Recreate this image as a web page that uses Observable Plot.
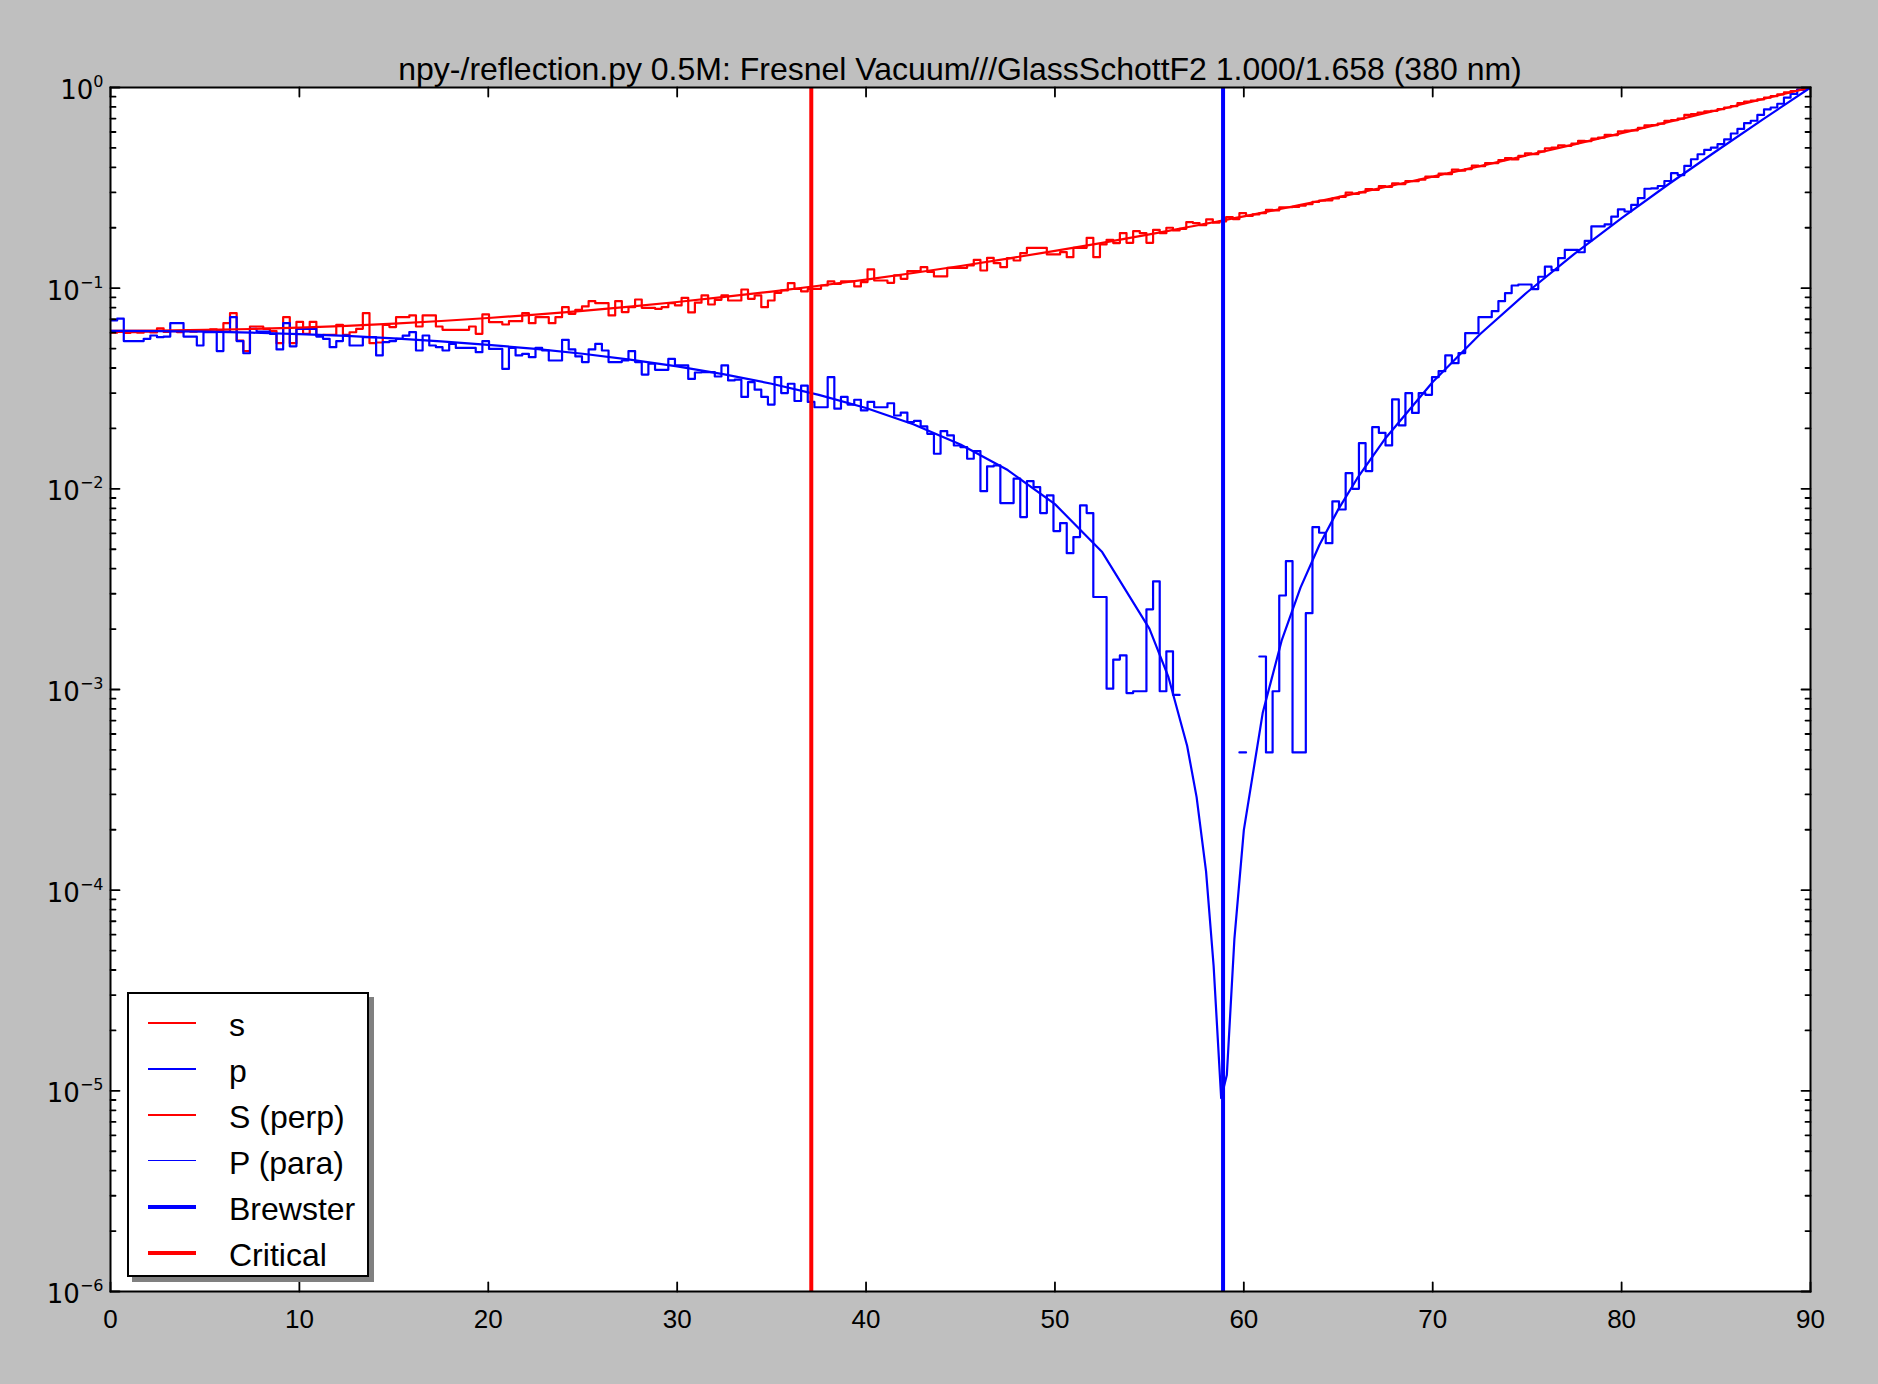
<!DOCTYPE html>
<html>
<head>
<meta charset="utf-8">
<script src="https://cdn.jsdelivr.net/npm/d3@7"></script>
<script src="https://cdn.jsdelivr.net/npm/@observablehq/plot@0.6"></script>
<style>
html, body { margin: 0; padding: 0; background: #bfbfbf; }
#wrap { position: relative; width: 1878px; height: 1384px; overflow: hidden; }
#title { position: absolute; left: 110px; width: 1700px; top: 53px; text-align: center;
  font-family: "Liberation Sans", Arial, sans-serif; font-size: 32px; line-height: 32px; color: #000; white-space: nowrap; }
#legend { position: absolute; left: 127px; top: 992px; width: 242px; height: 285px; box-sizing: border-box;
  background: #fff; border: 2px solid #000; box-shadow: 5px 5px 0 #808080; }
.sw { position: absolute; left: 19px; width: 48px; }
.lt { position: absolute; left: 100px; font-family: "Liberation Sans", Arial, sans-serif; font-size: 32px; line-height: 32px; color: #000; white-space: nowrap; }
</style>
</head>
<body>
<div id="wrap">
  <div id="chart"></div>
  <div id="title"></div>
  <div id="legend"></div>
</div>
<script>
// ---------------- data ----------------
const titleText = "npy-/reflection.py 0.5M: Fresnel Vacuum///GlassSchottF2 1.000/1.658 (380 nm)";

// histogram range (256 equal bins)
const histRange = [0, 90];
// s (perpendicular) histogram, 256 bins over 0..90 deg
const sHist = [
0.0600,0.0605,0.0598,0.0603,0.0600,0.0607,0.0602,0.0630,0.0605,0.0610,0.0604,0.0612,0.0607,0.0615,0.0612,
0.0623,0.0618,0.0669,0.0751,0.0548,0.0486,0.0644,0.0644,0.0627,0.0611,0.0532,0.0717,0.0532,0.0680,0.0592,
0.0680,0.0581,0.0585,0.0585,0.0657,0.0585,0.0603,0.0627,0.0751,0.0532,0.0536,0.0657,0.0640,0.0717,0.0717,0.0731,
0.0644,0.0731,0.0731,0.0644,0.0620,0.0620,0.0620,0.0620,0.0644,0.0592,0.0740,0.0677,0.0677,0.0659,0.0685,
0.0685,0.0751,0.0669,0.0717,0.0717,0.0669,0.0717,0.0804,0.0745,0.0780,0.0811,0.0862,0.0842,0.0842,0.0731,
0.0862,0.0760,0.0804,0.0878,0.0798,0.0798,0.0789,0.0804,0.0842,0.0820,0.0895,0.0757,0.0847,
0.0920,0.0829,0.0875,0.0920,0.0868,0.0868,0.0985,0.0885,0.0920,0.0804,0.0868,0.0948,0.0974,0.1059,0.0993,
0.0963,0.0993,0.0993,0.1031,0.1080,0.1051,0.1080,0.1080,0.1020,0.1072,0.1240,0.1092,0.1092,0.1063,0.1157,
0.1113,0.1216,0.1216,0.1273,0.1205,0.1144,
0.1144,0.1263,0.1263,0.1263,0.1297,0.1384,0.1225,0.1416,0.1332,0.1273,0.1411,0.1374,0.1495,0.1589,0.1589,
0.1589,0.1472,0.1472,0.1512,0.1427,0.1589,0.1589,0.1782,0.1427,0.1651,0.1742,0.1677,0.1880,0.1683,0.1924,
0.1880,0.1683,0.1954,0.1880,0.2000,0.1939,0.1976,0.2133,
0.2110,0.2060,0.2200,0.2120,0.2150,0.2260,0.2210,0.2365,0.2290,0.2330,0.2365,0.2457,0.2440,0.2531,0.2531,
0.2540,0.2580,0.2620,0.2690,0.2733,0.2740,0.2800,0.2850,0.2990,0.2950,0.3000,0.3120,0.3090,0.3230,0.3200,
0.3330,0.3300,0.3420,0.3410,0.3470,0.3600,0.3590,0.3720,0.3700,0.3900,0.3850,0.3920,0.4080,0.4050,0.4200,
0.4200,0.4350,0.4450,0.4380,0.4560,0.4700,0.4650,0.4800,0.4980,0.5020,0.5150,0.5120,0.5260,0.5420,0.5400,
0.5560,0.5620,0.5800,0.5790,0.6050,0.6100,0.6120,0.6290,0.6480,0.6500,0.6600,0.6820,0.6870,0.7000,0.7300,
0.7380,0.7500,0.7600,0.7650,0.7800,0.7950,0.8080,0.8350,0.8500,0.8600,0.8720,0.8900,0.9050,0.9250,0.9450,
0.9600,0.9750,0.9900
];
// p (parallel) histogram, 256 bins over 0..90 deg (0 = empty bin)
const pHist = [
0.0690,0.0705,0.0545,0.0545,0.0545,0.0559,0.0581,0.0570,0.0574,0.0669,0.0669,0.0574,0.0574,0.0518,0.0603,
0.0603,0.0486,0.0607,0.0717,0.0545,0.0474,0.0627,0.0607,0.0607,0.0592,0.0495,0.0669,0.0513,0.0627,0.0627,
0.0627,0.0574,0.0559,0.0508,0.0545,0.0581,0.0518,0.0518,0.0570,0.0570,0.0462,0.0539,0.0545,0.0559,0.0580,0.0604,
0.0489,0.0581,0.0518,0.0508,0.0489,0.0528,0.0504,0.0504,0.0504,0.0480,0.0545,0.0498,0.0498,0.0396,0.0504,
0.0462,0.0471,0.0453,0.0504,0.0489,0.0436,0.0436,0.0553,0.0495,0.0457,0.0428,0.0495,0.0528,0.0489,0.0428,
0.0428,0.0436,0.0486,0.0428,0.0371,0.0420,0.0392,0.0392,0.0444,0.0412,0.0412,0.0353,0.0380,
0.0382,0.0382,0.0363,0.0412,0.0347,0.0350,0.0287,0.0340,0.0312,0.0287,0.0263,0.0360,0.0300,0.0334,0.0274,
0.0327,0.0271,0.0255,0.0255,0.0360,0.0251,0.0287,0.0263,0.0278,0.0246,0.0271,0.0255,0.0255,0.0267,0.0232,
0.0240,0.0215,0.0218,0.0205,0.0188,0.01496,
0.01939,0.01845,0.01644,0.01613,0.01412,0.01542,0.00974,0.01293,0.01308,0.00849,0.00849,0.01123,0.00723,
0.01092,0.01019,0.00757,0.00927,0.00616,0.00675,0.00478,0.00575,0.00827,0.00757,0.00289,0.00289,0.00101,
0.00141,0.00148,0.00096,0.00098,0.00098,0.00251,0.00346,0.00098,0.00155,0.00094,
0,0,0,0,0,0,0,0,0,0.000486,0,0,0.00146,0.000486,0.00098,0.00294,0.00436,0.000486,0.000486,0.0024,
0.00645,0.00604,0.00536,0.00866,0.00789,0.01198,0.0100,0.0169,0.01226,0.0203,0.0190,0.01646,0.0279,0.0207,
0.0300,0.0239,0.0300,0.0294,0.0360,0.0386,0.0462,0.0423,0.0475,0.0597,0.0597,0.0717,0.0717,0.0768,0.0861,
0.0944,0.1031,0.1043,0.1043,0.0990,0.1140,0.1280,0.1230,0.1410,0.1550,0.1550,0.1510,0.1720,0.2030,0.2030,
0.2080,0.2270,0.2470,0.2410,0.2600,0.2810,0.3130,0.3140,0.3230,0.3420,0.3740,0.3660,0.4070,0.4390,0.4650,
0.4890,0.5020,0.5220,0.5520,0.5900,0.6220,0.6650,0.6830,0.7300,0.7780,0.7950,0.8300,0.8900,0.9280,0.9750,0.9900
];

// Fresnel curves, sampled
const curveAngle = [0,2.5,5,7.5,10,12.5,15,17.5,20,22.5,25,27.5,30,32.5,35,37.5,40,42.5,45,47.5,50,52.5,55,56,57,57.5,58,58.4,58.8,59.1,59.5,60,61,62,63,64,65,66,67.5,70,72.5,75,77.5,80,82.5,85,87.5,90];
const sCurve = [0.0613,0.0614,0.0619,0.0626,0.0636,0.0649,0.0666,0.0686,0.0710,0.0738,0.0771,0.0809,0.0853,0.0904,0.0962,0.1028,0.1104,0.1190,0.1290,0.1404,0.1534,0.1683,0.1855,0.1931,0.2011,0.2053,0.2096,0.2131,0.2167,0.2195,0.2232,0.2280,0.2380,0.2487,0.2599,0.2718,0.2844,0.2977,0.3192,0.3594,0.4058,0.4594,0.5211,0.5923,0.6742,0.7684,0.8764,1.0];
const pCurve = [0.0613,0.0611,0.0607,0.0600,0.0590,0.0578,0.0562,0.0543,0.0522,0.0498,0.0471,0.0440,0.0408,0.0372,0.0334,0.0294,0.0253,0.0210,0.01664,0.01240,0.00839,0.00484,0.00201,0.00116,0.000523,0.000291,0.000124,0.000042,0.0000092,0.000012,0.000057,0.000199,0.000765,0.00175,0.00322,0.00525,0.00790,0.01126,0.01788,0.0341,0.0589,0.0954,0.1483,0.2236,0.3304,0.4813,0.6953,1.0];

const criticalAngle = 37.1;
const brewsterAngle = 58.9;

const xTicks = [0,10,20,30,40,50,60,70,80,90];
const yTicks = [1e-6,1e-5,1e-4,1e-3,1e-2,1e-1,1];
const yExponents = ["\u22126","\u22125","\u22124","\u22123","\u22122","\u22121","0"];

const legendLabels = ["s","p","S (perp)","P (para)","Brewster","Critical"];
const legendColors = ["#ff0000","#0000ff","#ff0000","#0000ff","#0000ff","#ff0000"];
const legendWidths = [1.6,1.6,1.6,1.6,4,4];

// ---------------- build ----------------
const RED = "#ff0000", BLUE = "#0000ff";
const binW = (histRange[1] - histRange[0]) / sHist.length;
function steps(vals) {
  const pts = [];
  vals.forEach((v, i) => {
    const x0 = histRange[0] + i * binW, x1 = x0 + binW;
    if (v > 0) { pts.push({x: x0, y: v}, {x: x1, y: v}); }
    else { pts.push({x: x0, y: null}); }
  });
  return pts;
}
const sSteps = steps(sHist), pSteps = steps(pHist);
const sLine = curveAngle.map((a, i) => ({x: a, y: sCurve[i]}));
const pLine = curveAngle.map((a, i) => ({x: a, y: pCurve[i]}));

const minorY = [];
for (let k = -6; k < 0; k++) for (let m = 2; m <= 9; m++) minorY.push(m * Math.pow(10, k));

const tickShape = {draw(context, l) { context.moveTo(0, 0); context.lineTo(0, -l); }};
const tk = {anchor: "start", shape: tickShape, stroke: "black", strokeWidth: 1.8};
const expMap = new Map(yTicks.map((t, i) => [t, yExponents[i]]));

const chart = Plot.plot({
  width: 1878, height: 1384,
  marginLeft: 110, marginRight: 68, marginTop: 87, marginBottom: 93,
  style: {background: "#bfbfbf", fontFamily: "'Liberation Sans', Arial, sans-serif", fontSize: "26px", color: "black"},
  x: {domain: [0, 90]},
  y: {type: "log", domain: [1e-6, 1]},
  marks: [
    Plot.frame({fill: "white"}),
    Plot.line(sSteps, {x: "x", y: "y", stroke: RED, strokeWidth: 2.2, clip: true}),
    Plot.line(pSteps, {x: "x", y: "y", stroke: BLUE, strokeWidth: 2.2, clip: true}),
    Plot.line(sLine, {x: "x", y: "y", stroke: RED, strokeWidth: 2.2, clip: true}),
    Plot.line(pLine, {x: "x", y: "y", stroke: BLUE, strokeWidth: 2.2, clip: true}),
    Plot.ruleX([brewsterAngle], {stroke: BLUE, strokeWidth: 4}),
    Plot.ruleX([criticalAngle], {stroke: RED, strokeWidth: 4}),
    // inward ticks on all four sides
    Plot.vector(xTicks, {x: d => d, frameAnchor: "bottom", length: 9, rotate: 0, ...tk}),
    Plot.vector(xTicks, {x: d => d, frameAnchor: "top", length: 9, rotate: 180, ...tk}),
    Plot.vector(yTicks, {y: d => d, frameAnchor: "left", length: 9, rotate: 90, ...tk}),
    Plot.vector(yTicks, {y: d => d, frameAnchor: "right", length: 9, rotate: -90, ...tk}),
    Plot.vector(minorY, {y: d => d, frameAnchor: "left", length: 5, rotate: 90, ...tk}),
    Plot.vector(minorY, {y: d => d, frameAnchor: "right", length: 5, rotate: -90, ...tk}),
    Plot.axisX(xTicks, {tickSize: 0, tickPadding: 18, fontSize: 26, label: null, tickFormat: d => String(d)}),
    Plot.axisY(yTicks, {tickSize: 0, tickPadding: 7, fontSize: 26, fontFamily: "'DejaVu Sans', sans-serif", label: null, tickFormat: d => "10^" + expMap.get(d)}),
    Plot.frame({stroke: "black", strokeWidth: 2})
  ]
});
document.getElementById("chart").appendChild(chart);

// superscript exponents for the log-axis labels
d3.select(chart).selectAll('g[aria-label="y-axis tick label"] text').each(function() {
  const t = d3.select(this);
  const s = t.text();
  const [base, ex] = s.split("^");
  t.text(null);
  t.append("tspan").attr("dy", "0.12em").text(base);
  t.append("tspan").attr("font-size", "16px").attr("dy", "-0.75em").text(ex);
});

document.getElementById("title").textContent = titleText;

const leg = document.getElementById("legend");
legendLabels.forEach((lab, i) => {
  const cy = 29 + i * 45.9;
  const sw = document.createElement("div");
  sw.className = "sw";
  sw.style.top = (cy - legendWidths[i] / 2) + "px";
  sw.style.height = legendWidths[i] + "px";
  sw.style.background = legendColors[i];
  leg.appendChild(sw);
  const tx = document.createElement("div");
  tx.className = "lt";
  tx.style.top = (cy - 14) + "px";
  tx.textContent = lab;
  leg.appendChild(tx);
});
</script>
</body>
</html>
